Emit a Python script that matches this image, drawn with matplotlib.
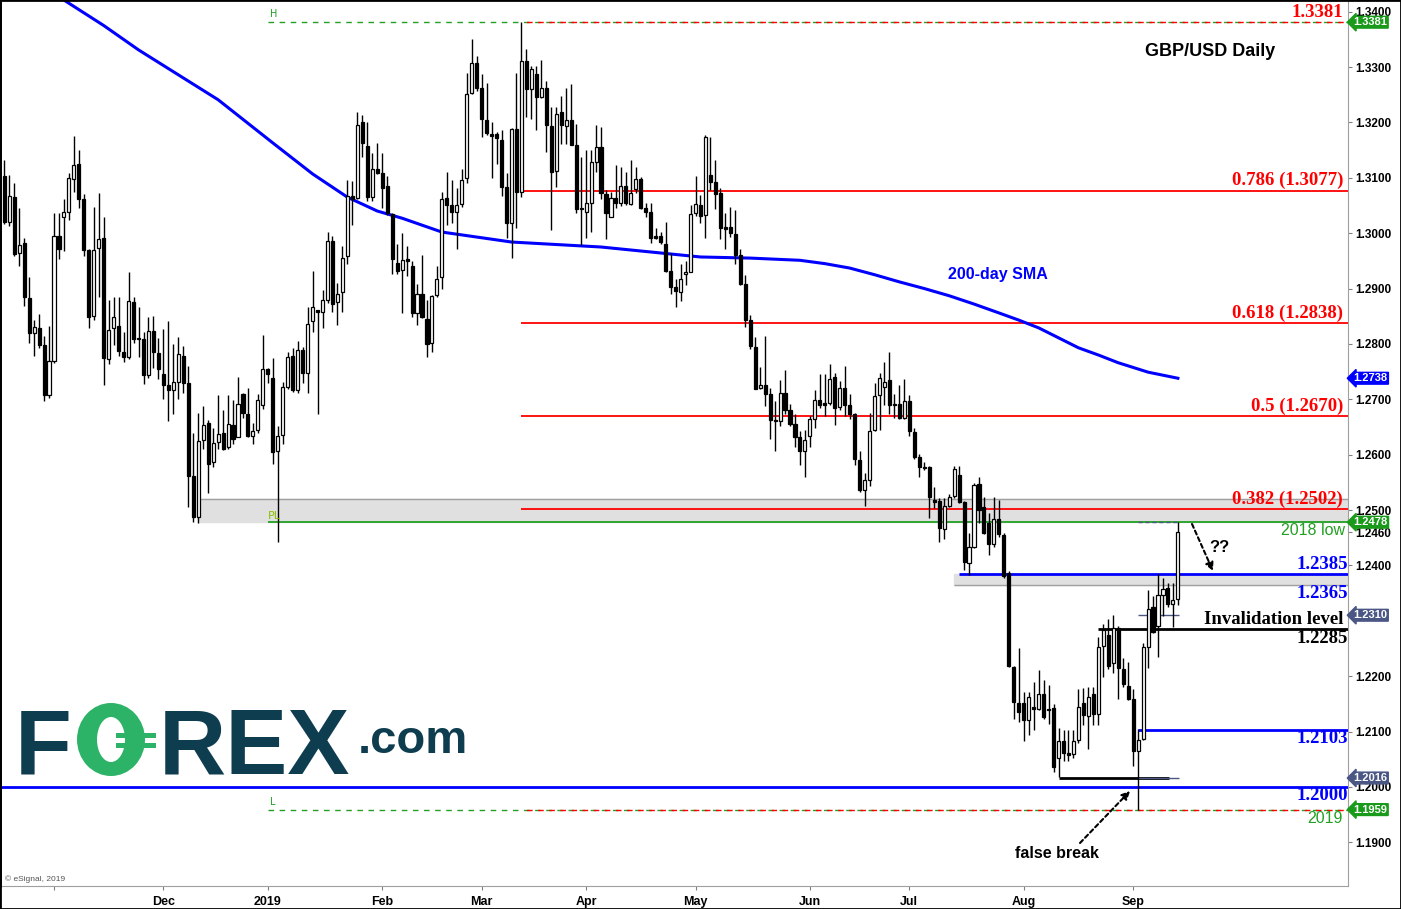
import numpy as np
import pandas as pd
import matplotlib
matplotlib.use("Agg")
import matplotlib.pyplot as plt
import matplotlib.transforms as mtransforms
from matplotlib.patches import Ellipse, Rectangle

# GBP/USD daily candles, 2018-10-18 .. 2019-09-13
OPEN = [1.3103, 1.3021, 1.3065, 1.2964, 1.2982, 1.2883, 1.2819, 1.2829, 1.2798, 1.2708,
        1.2770, 1.2995, 1.3030, 1.3039, 1.3098, 1.3125, 1.3062, 1.2970, 1.2851, 1.2974,
        1.2991, 1.2773, 1.2828, 1.2833, 1.2785, 1.2777, 1.2876, 1.2811, 1.2809, 1.2744,
        1.2823, 1.2784, 1.2746, 1.2725, 1.2717, 1.2731, 1.2779, 1.2729, 1.2562, 1.2488,
        1.2626, 1.2658, 1.2586, 1.2622, 1.2640, 1.2613, 1.2653, 1.2632, 1.2709, 1.2673,
        1.2633, 1.2645, 1.2690, 1.2755, 1.2738, 1.2607, 1.2635, 1.2722, 1.2778, 1.2716,
        1.2789, 1.2748, 1.2841, 1.2861, 1.2857, 1.2880, 1.2985, 1.2875, 1.2893, 1.2959,
        1.3068, 1.3064, 1.3200, 1.3157, 1.3066, 1.3115, 1.3108, 1.3085, 1.3035, 1.2947,
        1.2933, 1.2953, 1.2940, 1.2855, 1.2891, 1.2845, 1.2801, 1.2888, 1.2920, 1.3063,
        1.3050, 1.3038, 1.3053, 1.3099, 1.3253, 1.3307, 1.3263, 1.3204, 1.3179, 1.3179,
        1.3169, 1.3083, 1.3018, 1.3189, 1.3075, 1.3311, 1.3260, 1.3287, 1.3246, 1.3263,
        1.3193, 1.3113, 1.3219, 1.3194, 1.3204, 1.3159, 1.3045, 1.3038, 1.3055, 1.3129,
        1.3155, 1.3071, 1.3030, 1.3063, 1.3055, 1.3085, 1.3053, 1.3080, 1.3097, 1.3045,
        1.3038, 1.2995, 1.2995, 1.2980, 1.2932, 1.2902, 1.2894, 1.2926, 1.2930, 1.3036,
        1.3051, 1.3032, 1.3105, 1.3092, 1.3073, 1.3011, 1.3011, 1.2998, 1.2961, 1.2908,
        1.2843, 1.2795, 1.2721, 1.2726, 1.2710, 1.2663, 1.2661, 1.2711, 1.2681, 1.2655,
        1.2631, 1.2607, 1.2634, 1.2665, 1.2699, 1.2694, 1.2694, 1.2741, 1.2686, 1.2720,
        1.2690, 1.2673, 1.2590, 1.2536, 1.2555, 1.2645, 1.2707, 1.2723, 1.2735, 1.2692,
        1.2691, 1.2667, 1.2697, 1.2641, 1.2595, 1.2578, 1.2578, 1.2518, 1.2516, 1.2465,
        1.2508, 1.2525, 1.2563, 1.2515, 1.2405, 1.2434, 1.2547, 1.2506, 1.2477, 1.2439,
        1.2483, 1.2455, 1.2386, 1.2216, 1.2151, 1.2151, 1.2120, 1.2145, 1.2141, 1.2168,
        1.2141, 1.2142, 1.2052, 1.2082, 1.2061, 1.2059, 1.2085, 1.2151, 1.2128, 1.2167,
        1.2131, 1.2255, 1.2274, 1.2223, 1.2287, 1.2212, 1.2182, 1.2158, 1.2065, 1.2086,
        1.2252, 1.2324, 1.2291, 1.2346, 1.2360, 1.2330, 1.2339]
HIGH = [1.3132, 1.3105, 1.3091, 1.3045, 1.2991, 1.2921, 1.2843, 1.2854, 1.2814, 1.2832,
        1.3036, 1.3036, 1.3061, 1.3108, 1.3175, 1.3150, 1.3071, 1.2972, 1.3047, 1.3073,
        1.3030, 1.2879, 1.2885, 1.2885, 1.2822, 1.2930, 1.2885, 1.2866, 1.2822, 1.2849,
        1.2850, 1.2810, 1.2827, 1.2841, 1.2800, 1.2812, 1.2796, 1.2761, 1.2640, 1.2675,
        1.2688, 1.2663, 1.2648, 1.2708, 1.2681, 1.2708, 1.2699, 1.2741, 1.2711, 1.2720,
        1.2658, 1.2710, 1.2816, 1.2757, 1.2775, 1.2651, 1.2732, 1.2786, 1.2792, 1.2805,
        1.2795, 1.2867, 1.2932, 1.2862, 1.2897, 1.3002, 1.2995, 1.2910, 1.2977, 1.3096,
        1.3094, 1.3219, 1.3213, 1.3200, 1.3145, 1.3162, 1.3145, 1.3103, 1.3037, 1.2980,
        1.3000, 1.2977, 1.2950, 1.2909, 1.2961, 1.2879, 1.2888, 1.2941, 1.3074, 1.3110,
        1.3096, 1.3081, 1.3116, 1.3289, 1.3350, 1.3320, 1.3287, 1.3272, 1.3200, 1.3183,
        1.3186, 1.3108, 1.3190, 1.3289, 1.3381, 1.3332, 1.3302, 1.3302, 1.3313, 1.3275,
        1.3227, 1.3227, 1.3248, 1.3263, 1.3269, 1.3198, 1.3138, 1.3150, 1.3150, 1.3196,
        1.3191, 1.3078, 1.3075, 1.3123, 1.3120, 1.3111, 1.3133, 1.3119, 1.3102, 1.3054,
        1.3054, 1.3009, 1.3003, 1.3021, 1.2964, 1.2917, 1.2944, 1.2949, 1.3051, 1.3103,
        1.3069, 1.3177, 1.3173, 1.3132, 1.3081, 1.3036, 1.3047, 1.3042, 1.2971, 1.2924,
        1.2852, 1.2812, 1.2759, 1.2814, 1.2720, 1.2696, 1.2734, 1.2753, 1.2692, 1.2673,
        1.2643, 1.2644, 1.2669, 1.2717, 1.2746, 1.2746, 1.2764, 1.2748, 1.2733, 1.2760,
        1.2710, 1.2675, 1.2607, 1.2566, 1.2675, 1.2729, 1.2747, 1.2767, 1.2785, 1.2710,
        1.2726, 1.2736, 1.2708, 1.2649, 1.2602, 1.2587, 1.2580, 1.2542, 1.2521, 1.2521,
        1.2529, 1.2580, 1.2580, 1.2517, 1.2458, 1.2548, 1.2560, 1.2524, 1.2494, 1.2524,
        1.2519, 1.2458, 1.2389, 1.2219, 1.2250, 1.2172, 1.2172, 1.2189, 1.2211, 1.2193,
        1.2184, 1.2150, 1.2107, 1.2102, 1.2103, 1.2103, 1.2176, 1.2178, 1.2180, 1.2181,
        1.2270, 1.2295, 1.2304, 1.2310, 1.2290, 1.2232, 1.2226, 1.2176, 1.2104, 1.2260,
        1.2356, 1.2344, 1.2384, 1.2378, 1.2369, 1.2368, 1.2478]
LOW = [1.3017, 1.3013, 1.2959, 1.2940, 1.2869, 1.2801, 1.2779, 1.2793, 1.2697, 1.2703,
       1.2766, 1.2954, 1.2967, 1.3023, 1.3075, 1.3046, 1.2959, 1.2829, 1.2843, 1.2885,
       1.2726, 1.2763, 1.2798, 1.2779, 1.2767, 1.2773, 1.2801, 1.2777, 1.2728, 1.2739,
       1.2756, 1.2737, 1.2701, 1.2661, 1.2673, 1.2701, 1.2712, 1.2506, 1.2479, 1.2477,
       1.2610, 1.2531, 1.2577, 1.2610, 1.2608, 1.2610, 1.2620, 1.2631, 1.2666, 1.2632,
       1.2619, 1.2639, 1.2682, 1.2729, 1.2584, 1.2443, 1.2619, 1.2718, 1.2714, 1.2711,
       1.2729, 1.2712, 1.2821, 1.2673, 1.2828, 1.2873, 1.2858, 1.2834, 1.2857, 1.2944,
       1.3014, 1.3061, 1.3138, 1.3058, 1.3058, 1.3107, 1.3046, 1.3033, 1.2927, 1.2927,
       1.2856, 1.2923, 1.2848, 1.2834, 1.2846, 1.2776, 1.2786, 1.2885, 1.2899, 1.3015,
       1.3018, 1.2971, 1.3048, 1.3090, 1.3251, 1.3256, 1.3174, 1.3177, 1.3100, 1.3125,
       1.3068, 1.2991, 1.2955, 1.3009, 1.3065, 1.3210, 1.3206, 1.3187, 1.3245, 1.3147,
       1.3006, 1.3083, 1.3161, 1.3161, 1.3159, 1.3037, 1.2979, 1.2992, 1.3002, 1.3111,
       1.3062, 1.2990, 1.3029, 1.3045, 1.3049, 1.3051, 1.3051, 1.3073, 1.3043, 1.3030,
       1.2982, 1.2989, 1.2980, 1.2930, 1.2890, 1.2867, 1.2878, 1.2906, 1.2929, 1.3031,
       1.3018, 1.2992, 1.3078, 1.3043, 1.2989, 1.2971, 1.2993, 1.2944, 1.2906, 1.2830,
       1.2790, 1.2718, 1.2718, 1.2687, 1.2628, 1.2607, 1.2652, 1.2673, 1.2651, 1.2613,
       1.2581, 1.2560, 1.2613, 1.2649, 1.2684, 1.2670, 1.2690, 1.2654, 1.2681, 1.2670,
       1.2664, 1.2581, 1.2533, 1.2507, 1.2543, 1.2643, 1.2645, 1.2690, 1.2674, 1.2666,
       1.2664, 1.2664, 1.2634, 1.2592, 1.2559, 1.2572, 1.2485, 1.2503, 1.2442, 1.2448,
       1.2506, 1.2522, 1.2512, 1.2392, 1.2383, 1.2431, 1.2477, 1.2457, 1.2419, 1.2434,
       1.2452, 1.2378, 1.2217, 1.2122, 1.2118, 1.2082, 1.2093, 1.2103, 1.2138, 1.2122,
       1.2113, 1.2027, 1.2018, 1.2047, 1.2047, 1.2052, 1.2079, 1.2112, 1.2068, 1.2112,
       1.2112, 1.2198, 1.2212, 1.2205, 1.2158, 1.2181, 1.2157, 1.2038, 1.1959, 1.2085,
       1.2214, 1.2278, 1.2235, 1.2309, 1.2324, 1.2288, 1.2328]
CLOSE = [1.3021, 1.3067, 1.2962, 1.2978, 1.2884, 1.2819, 1.2831, 1.2798, 1.2708, 1.2769,
         1.2995, 1.2972, 1.3038, 1.3099, 1.3124, 1.3062, 1.2970, 1.2849, 1.2970, 1.2990,
         1.2775, 1.2826, 1.2849, 1.2788, 1.2777, 1.2877, 1.2809, 1.2808, 1.2744, 1.2824,
         1.2786, 1.2754, 1.2725, 1.2717, 1.2732, 1.2781, 1.2729, 1.2562, 1.2487, 1.2625,
         1.2654, 1.2584, 1.2621, 1.2637, 1.2610, 1.2655, 1.2629, 1.2691, 1.2675, 1.2634,
         1.2642, 1.2698, 1.2754, 1.2745, 1.2605, 1.2633, 1.2722, 1.2776, 1.2716, 1.2789,
         1.2748, 1.2836, 1.2866, 1.2858, 1.2879, 1.2985, 1.2872, 1.2890, 1.2956, 1.3067,
         1.3061, 1.3195, 1.3162, 1.3066, 1.3115, 1.3109, 1.3081, 1.3036, 1.2953, 1.2931,
         1.2952, 1.2949, 1.2856, 1.2891, 1.2848, 1.2800, 1.2887, 1.2918, 1.3062, 1.3051,
         1.3039, 1.3050, 1.3096, 1.3251, 1.3307, 1.3263, 1.3207, 1.3181, 1.3176, 1.3172,
         1.3084, 1.3018, 1.3189, 1.3075, 1.3311, 1.3260, 1.3296, 1.3246, 1.3263, 1.3195,
         1.3111, 1.3215, 1.3195, 1.3204, 1.3159, 1.3044, 1.3043, 1.3054, 1.3128, 1.3156,
         1.3072, 1.3037, 1.3063, 1.3055, 1.3086, 1.3055, 1.3072, 1.3097, 1.3045, 1.3039,
         1.2991, 1.2991, 1.2984, 1.2932, 1.2903, 1.2896, 1.2917, 1.2929, 1.3035, 1.3053,
         1.3031, 1.3173, 1.3093, 1.3071, 1.3009, 1.3008, 1.3001, 1.2961, 1.2908, 1.2843,
         1.2797, 1.2719, 1.2726, 1.2710, 1.2663, 1.2660, 1.2711, 1.2681, 1.2655, 1.2632,
         1.2607, 1.2626, 1.2664, 1.2698, 1.2689, 1.2690, 1.2736, 1.2684, 1.2720, 1.2690,
         1.2673, 1.2592, 1.2536, 1.2554, 1.2643, 1.2706, 1.2738, 1.2731, 1.2689, 1.2689,
         1.2667, 1.2697, 1.2642, 1.2595, 1.2578, 1.2575, 1.2524, 1.2515, 1.2467, 1.2507,
         1.2524, 1.2574, 1.2515, 1.2407, 1.2433, 1.2545, 1.2500, 1.2458, 1.2439, 1.2483,
         1.2456, 1.2381, 1.2219, 1.2153, 1.2135, 1.2120, 1.2162, 1.2141, 1.2168, 1.2127,
         1.2138, 1.2036, 1.2082, 1.2061, 1.2058, 1.2083, 1.2144, 1.2130, 1.2163, 1.2131,
         1.2252, 1.2284, 1.2219, 1.2287, 1.2214, 1.2185, 1.2158, 1.2065, 1.2085, 1.2252,
         1.2322, 1.2280, 1.2346, 1.2358, 1.2330, 1.2337, 1.2460]

# 200-day SMA, sampled (candle position, value)
SMA_POS = [12, 20, 27, 35, 43, 54, 62, 69, 75, 80, 88, 102, 120, 140, 150, 160, 165,
           170, 175, 180, 185, 190, 195, 200, 204, 208, 212, 216, 220, 224, 230, 236]
SMA_VAL = [1.3421, 1.3375, 1.3331, 1.3286, 1.3241, 1.3163, 1.3107, 1.3065, 1.3040, 1.3027,
           1.3002, 1.2984, 1.2975, 1.2957, 1.2955, 1.2951, 1.2945, 1.2937, 1.2925, 1.2912,
           1.2900, 1.2887, 1.2872, 1.2856, 1.2843, 1.2829, 1.2811, 1.2793, 1.2780, 1.2766,
           1.2749, 1.2738]

FIB_LEVELS = [1.3077, 1.2838, 1.2670, 1.2502]
FIB_LABELS = ["0.786 (1.3077)", "0.618 (1.2838)", "0.5 (1.2670)", "0.382 (1.2502)"]
HIGH_2019 = 1.3381
LOW_2019 = 1.1959
LOW_2018 = 1.2478

MONTH_STARTS = ["2018-11-01", "2018-12-01", "2019-01-01", "2019-02-01", "2019-03-01",
                "2019-04-01", "2019-05-01", "2019-06-01", "2019-07-01", "2019-08-01", "2019-09-01"]
MONTH_LABELS = ["", "Dec", "2019", "Feb", "Mar", "Apr", "May", "Jun", "Jul", "Aug", "Sep"]

# 1.2300 sits under the 1.2310 tag in the original, so it is left out
Y_TICKS = [round(1.19 + 0.01 * i, 2) for i in range(16) if i != 4] + [1.2460]

dates = pd.bdate_range("2018-10-18", periods=len(OPEN))
pos = np.arange(len(OPEN))
o, h, l, c = map(np.array, (OPEN, HIGH, LOW, CLOSE))

W, H = 1401, 909
fig = plt.figure(figsize=(W / 100, H / 100), dpi=100)
ax = fig.add_axes([0, 23 / H, 1348 / W, 886 / H])

px_day = 4.973
ax.set_xlim(10 - 54 / px_day, 10 + (1348 - 54) / px_day)
ax.set_ylim(1.1821, 1.34211)

RED = "#ff0000"
BLUE = "#0000ff"
GREEN = "#1a9a1a"
SLATE = "#4a5785"
last = pos[-1] + 0.3

# grey zones
ax.fill_between([39, 300], 1.2478, 1.2520, color="#e0e0e0", zorder=1)
ax.hlines(1.2520, 39, 300, color="#a0a0a0", lw=1, zorder=1.5)
ax.fill_between([191, 300], 1.2365, 1.2385, color="#e0e0e0", zorder=1)
ax.hlines(1.2365, 191, 300, color="#a0a0a0", lw=1, zorder=1.5)

# 2019 high / low lines
ax.hlines(HIGH_2019, 53, 300, color="#22a022", lw=1, linestyles=(0, (4, 4)), zorder=2)
ax.hlines(HIGH_2019, 104, 300, color=RED, lw=1, linestyles=(4, (4, 4)), zorder=2)
ax.hlines(LOW_2019, 53, 300, color="#22a022", lw=1, linestyles=(0, (4, 4)), zorder=2)
ax.hlines(LOW_2019, 104, 300, color=RED, lw=1, linestyles=(4, (4, 4)), zorder=2)
ax.hlines(LOW_2018, 53, 300, color="#22a022", lw=1.3, zorder=2)

# fib levels
ax.hlines(FIB_LEVELS, 104, 300, color=RED, lw=1.3, zorder=2)

# other levels
ax.hlines(1.2385, 192, 300, color=BLUE, lw=2, zorder=2)
ax.hlines(1.2285, 220, 300, color="black", lw=2, zorder=2)
ax.hlines(1.2103, 228, 300, color=BLUE, lw=2, zorder=2)
ax.hlines(1.2000, -5, 300, color=BLUE, lw=2, zorder=2)
ax.hlines(1.2016, 212, 234.2, color="black", lw=2, zorder=2)
ax.hlines(1.2016, 228, last, color=SLATE, lw=1, zorder=2)
ax.hlines(1.2310, 228, last, color=SLATE, lw=1, zorder=2)
ax.hlines(1.2478, 228, last, color=SLATE, lw=1, linestyles=(0, (3, 2)), zorder=2)

# SMA
ax.plot(SMA_POS, SMA_VAL, color=BLUE, lw=2.2, zorder=2.5)

# candles
up = c >= o
body_lo = np.minimum(o, c)
body_h = np.maximum(np.abs(c - o), 0.00004)
ax.vlines(pos, l, h, color="black", lw=1, zorder=3)
ax.bar(pos[up], body_h[up], bottom=body_lo[up], width=0.62, color="white",
       edgecolor="black", linewidth=0.9, zorder=4)
ax.bar(pos[~up], body_h[~up], bottom=body_lo[~up], width=0.62, color="black",
       edgecolor="black", linewidth=0.9, zorder=4)

# axes styling
ax.spines["top"].set_visible(False)
ax.spines["left"].set_color("black")
ax.spines["left"].set_linewidth(2)
ax.spines["bottom"].set_color("#a0a0a0")
ax.spines["right"].set_color("#a0a0a0")
ax.yaxis.tick_right()
ax.set_yticks(Y_TICKS)
ax.set_yticklabels([f"{v:.4f}" for v in Y_TICKS])
ax.tick_params(axis="y", direction="out", length=3, color="#808080", pad=2,
               labelsize=8.5, labelcolor="black")
for t in ax.get_yticklabels():
    t.set_fontweight("bold")
    t.set_family("Liberation Sans")

tick_pos = [int(dates.searchsorted(pd.Timestamp(d))) for d in MONTH_STARTS]
ax.set_xticks(tick_pos)
ax.set_xticklabels(MONTH_LABELS)
ax.tick_params(axis="x", direction="out", length=3, color="#808080", pad=4, labelsize=9)
for t in ax.get_xticklabels():
    t.set_fontweight("bold")
    t.set_family(["Liberation Sans Narrow", "Liberation Sans"])

# level labels
rx = mtransforms.blended_transform_factory(ax.transAxes, ax.transData)
serif = dict(family="Liberation Serif", fontweight="bold", fontsize=13.5, transform=rx, ha="right")
xr = 1343 / 1348
ax.text(xr, HIGH_2019 + 0.0002, "1.3381", color=RED, va="bottom", **serif)
for v, s in zip(FIB_LEVELS, FIB_LABELS):
    ax.text(xr, v + 0.0002, s, color=RED, va="bottom", **serif)
ax.text(1.0, 1.2385 + 0.0001, "1.2385", color=BLUE, va="bottom", **serif)
ax.text(1.0, 1.2365 - 0.0001, "1.2365", color=BLUE, va="top", **serif)
ax.text(xr, 1.2285 + 0.0002, "Invalidation level", color="black", va="bottom", **serif)
ax.text(1.0, 1.2285 - 0.0001, "1.2285", color="black", va="top", **serif)
ax.text(1.0, 1.2103 - 0.0001, "1.2103", color=BLUE, va="top", **serif)
ax.text(1.0, 1.2000 - 0.0001, "1.2000", color=BLUE, va="top", **serif)
ax.text(1345 / 1348, LOW_2018 - 0.0002, "2018 low", color="#22a022", va="top", ha="right",
        fontsize=11.5, family="Liberation Sans", transform=rx)
ax.text(xr, LOW_2019 - 0.0002, "2019", color="#22a022", va="top", ha="right",
        fontsize=11.5, family="Liberation Sans", transform=rx)
ax.text(53.4, HIGH_2019 + 0.0005, "H", color="#22a022", fontsize=7, va="bottom")
ax.text(53.4, LOW_2019 + 0.0005, "L", color="#22a022", fontsize=7, va="bottom")
ax.text(53.0, LOW_2018 + 0.0003, "PL", color="#8cbf00", fontsize=8, va="bottom")

# right-axis value tags
TAGS = [(1.3381, GREEN), (1.2738, BLUE), (1.2478, GREEN), (1.2310, SLATE),
        (1.2016, SLATE), (1.1959, GREEN)]
for v, col in TAGS:
    ax.text(1.004, v, f"{v:.4f}", transform=rx, color="white", fontsize=8,
            fontweight="bold", family="Liberation Sans", va="center", ha="left",
            clip_on=False, zorder=10,
            bbox=dict(boxstyle="larrow,pad=0.08", fc=col, ec=col))

# overlay in pixel coordinates
ov = fig.add_axes([0, 0, 1, 1], zorder=5)
ov.set_xlim(0, W)
ov.set_ylim(H, 0)
ov.axis("off")
ov.patch.set_alpha(0)

ov.text(1210, 52, "GBP/USD Daily", fontsize=13, fontweight="bold",
        family="Liberation Sans", ha="center", va="center")
ov.text(998, 274, "200-day SMA", fontsize=11.5, fontweight="bold", color=BLUE,
        family="Liberation Sans", ha="center", va="center")
ov.text(1219, 548, "??", fontsize=12, fontweight="bold", family="Liberation Sans",
        ha="center", va="center")
ov.annotate("", xy=(1213, 571), xytext=(1192, 524),
            arrowprops=dict(arrowstyle="-|>", lw=1.5, ls=(0, (2, 1.5)), color="black",
                            mutation_scale=12, shrinkA=0, shrinkB=0))
ov.text(1057, 854, "false break", fontsize=11.5, fontweight="bold",
        family="Liberation Sans", ha="center", va="center")
ov.annotate("", xy=(1130, 791), xytext=(1080, 843),
            arrowprops=dict(arrowstyle="-|>", lw=1.5, ls=(0, (2, 1.5)), color="black",
                            mutation_scale=12, shrinkA=0, shrinkB=0))
ov.text(5, 879, "\u00a9 eSignal, 2019", fontsize=6, color="#555555",
        family="Liberation Sans", va="center")

# FOREX.com logo
NAVY = "#0e3d50"
LOGO_GREEN = "#2db368"
logo = dict(fontsize=67, fontweight="bold", family="Liberation Sans", color=NAVY,
            va="baseline")
ov.text(15, 774, "F", **logo)
ov.add_patch(Ellipse((111, 739.5), 68, 73, fc=LOGO_GREEN, ec="none"))
ov.add_patch(Ellipse((111, 739.5), 28, 45, fc="white", ec="none"))
ov.add_patch(Rectangle((116, 733), 40, 5, fc=LOGO_GREEN, ec="none"))
ov.add_patch(Rectangle((116, 743), 40, 5, fc=LOGO_GREEN, ec="none"))
ov.text(159, 774, "REX", **logo)
ov.text(358, 753, ".com", fontsize=34, fontweight="bold", family="Liberation Sans",
        color=NAVY, va="baseline")

# outer frame
fig.add_artist(Rectangle((0, 0), 1, 1, transform=fig.transFigure, fill=False,
                         ec="black", lw=2))

fig.savefig("out.png", dpi=100)
